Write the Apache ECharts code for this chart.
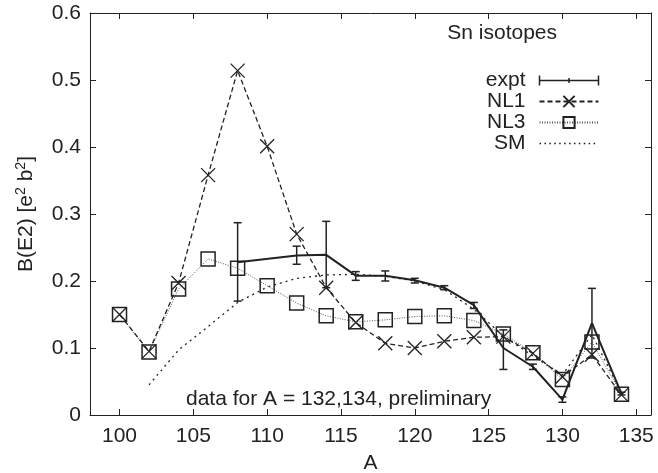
<!DOCTYPE html>
<html>
<head>
<meta charset="utf-8">
<script src="https://cdn.jsdelivr.net/npm/echarts@6/dist/echarts.min.js"></script>
<style>
  html, body { margin: 0; padding: 0; background: #fff; }
  #chart { width: 658px; height: 473px; }
</style>
</head>
<body>
<div id="chart"></div>
<script>
// mass numbers
const massAll = [100, 102, 104, 106, 108, 110, 112, 114, 116, 118, 120, 122, 124, 126, 128, 130, 132, 134]
const massSM = [102, 104, 106, 108, 110, 112, 114, 116, 118, 120, 122, 124, 126, 128, 130, 132, 134]
const massExpt = [108, 112, 114, 116, 118, 120, 122, 124, 126, 128, 130, 132, 134]

// B(E2) values [e^2 b^2]
const exptVal = [0.228, 0.238, 0.239, 0.208, 0.208, 0.201, 0.190, 0.164, 0.100, 0.072, 0.023, 0.137, 0.032]
const exptLow = [0.170, 0.225, 0.190, 0.201, 0.200, 0.197, 0.187, 0.159, 0.068, 0.068, 0.019, 0.085, 0.030]
const exptHigh = [0.287, 0.252, 0.289, 0.214, 0.215, 0.204, 0.193, 0.168, 0.127, 0.076, 0.027, 0.189, 0.034]
const nl1Val = [0.150, 0.095, 0.197, 0.358, 0.514, 0.401, 0.270, 0.190, 0.138, 0.107, 0.100, 0.110, 0.116, 0.117, 0.092, 0.057, 0.090, 0.030]
const nl3Val = [0.150, 0.094, 0.188, 0.233, 0.219, 0.193, 0.167, 0.148, 0.139, 0.142, 0.147, 0.148, 0.141, 0.121, 0.093, 0.053, 0.109, 0.031]
const smVal = [0.045, 0.097, 0.132, 0.168, 0.191, 0.204, 0.209, 0.210, 0.207, 0.200, 0.187, 0.158, 0.118, 0.088, 0.060, 0.120, 0.033]

const xTicks = [100, 105, 110, 115, 120, 125, 130, 135]

const ink = '#222'
const font = 'Liberation Sans, Arial, sans-serif'

const pairs = (xs, ys) => xs.map((x, i) => [x, ys[i]])

// dotted legend sample for SM (no marker)
let smIcon = 'path://'
for (let i = 0; i < 60; i += 5) smIcon += 'M' + i + ',5L' + (i + 1.6) + ',5'
smIcon += 'M0,0M60,10'

let myChart = echarts.init(document.getElementById('chart'), null, { renderer: 'canvas' })

let option = {
  backgroundColor: '#fff',
  animation: false,
  textStyle: { fontFamily: font, color: ink },
  grid: { left: 90, right: 7, top: 13, bottom: 58, outerBoundsMode: 'none', containLabel: false },
  title: {
    text: 'Sn isotopes',
    right: 96,
    top: 18,
    textStyle: { fontFamily: font, fontSize: 21, fontWeight: 'normal', color: ink }
  },
  legend: {
    orient: 'vertical',
    right: 52,
    top: 65,
    align: 'right',
    itemWidth: 59,
    itemHeight: 14,
    itemGap: 0,
    textStyle: { fontFamily: font, fontSize: 21, color: ink, padding: [0, 9, 0, 0] },
    data: [
      {
        name: 'expt',
        icon: 'path://M0,0L0,10M0,5L60,5M60,0L60,10M30,2.5L30,7.5',
        itemStyle: { color: 'none', borderColor: ink, borderWidth: 1.5 }
      },
      { name: 'NL1' },
      { name: 'NL3' },
      {
        name: 'SM',
        icon: smIcon,
        itemStyle: { color: 'none', borderColor: ink, borderWidth: 1.3 }
      }
    ]
  },
  xAxis: [
    {
      type: 'value',
      min: 98,
      max: 136,
      name: 'A',
      nameLocation: 'middle',
      nameGap: 38,
      nameTextStyle: { fontFamily: font, fontSize: 21, color: ink },
      axisLine: { show: true, onZero: false, lineStyle: { color: ink, width: 1 } },
      axisTick: { show: true, inside: true, length: 6, customValues: xTicks, lineStyle: { color: ink } },
      axisLabel: { customValues: xTicks, margin: 11, fontSize: 21, fontFamily: font, color: ink },
      splitLine: { show: false }
    },
    {
      type: 'value',
      position: 'top',
      min: 98,
      max: 136,
      axisLine: { show: true, onZero: false, lineStyle: { color: ink, width: 1 } },
      axisTick: { show: true, inside: true, length: 6, customValues: xTicks, lineStyle: { color: ink } },
      axisLabel: { show: false },
      splitLine: { show: false }
    }
  ],
  yAxis: [
    {
      type: 'value',
      min: 0,
      max: 0.6,
      interval: 0.1,
      name: 'B(E2) [e{sup|2} b{sup|2}]',
      nameLocation: 'middle',
      nameGap: 52,
      nameTextStyle: {
        fontFamily: font, fontSize: 21, color: ink,
        rich: { sup: { fontFamily: font, fontSize: 14, color: ink, verticalAlign: 'top', padding: [0, 0, 10, 0] } }
      },
      axisLine: { show: true, onZero: false, lineStyle: { color: ink, width: 1 } },
      axisTick: { show: true, inside: true, length: 6, lineStyle: { color: ink } },
      axisLabel: {
        margin: 9, fontSize: 21, fontFamily: font, color: ink,
        formatter: function (v) { return v === 0 ? '0' : v.toFixed(1) }
      },
      splitLine: { show: false }
    },
    {
      type: 'value',
      position: 'right',
      min: 0,
      max: 0.6,
      interval: 0.1,
      axisLine: { show: true, onZero: false, lineStyle: { color: ink, width: 1 } },
      axisTick: { show: true, inside: true, length: 6, lineStyle: { color: ink } },
      axisLabel: { show: false },
      splitLine: { show: false }
    }
  ],
  graphic: [
    {
      type: 'text',
      left: 186,
      top: 389,
      style: { text: 'data for A = 132,134, preliminary', fontFamily: font, fontSize: 21, fill: ink }
    }
  ],
  series: [
    {
      name: 'SM',
      type: 'line',
      data: pairs(massSM, smVal),
      symbol: 'none',
      lineStyle: { color: ink, width: 1.3, type: [2, 4] },
      itemStyle: { color: ink },
      z: 2
    },
    {
      name: 'NL3',
      type: 'line',
      data: pairs(massAll, nl3Val),
      symbol: 'rect',
      symbolSize: 14,
      lineStyle: { color: '#555', width: 1, type: [1, 1.5] },
      itemStyle: { color: 'none', borderColor: ink, borderWidth: 1.5 },
      z: 3
    },
    {
      name: 'NL1',
      type: 'line',
      data: pairs(massAll, nl1Val),
      symbol: 'path://M0,0L10,10M10,0L0,10',
      symbolSize: 14,
      lineStyle: { color: ink, width: 1.3, type: [5, 3] },
      itemStyle: { color: 'none', borderColor: ink, borderWidth: 1.3 },
      z: 4
    },
    {
      name: 'expt',
      type: 'line',
      data: pairs(massExpt, exptVal),
      symbol: 'none',
      lineStyle: { color: ink, width: 2 },
      itemStyle: { color: ink },
      z: 5
    },
    {
      name: 'expt-err',
      type: 'custom',
      data: massExpt.map((x, i) => [x, exptLow[i], exptHigh[i]]),
      encode: { x: 0, y: [1, 2] },
      z: 6,
      renderItem: function (params, api) {
        let x = api.value(0)
        let bot = api.coord([x, api.value(1)])
        let top = api.coord([x, api.value(2)])
        let w = 4
        let st = { stroke: ink, lineWidth: 1.5 }
        return {
          type: 'group',
          children: [
            { type: 'line', shape: { x1: top[0], y1: top[1], x2: bot[0], y2: bot[1] }, style: st },
            { type: 'line', shape: { x1: top[0] - w, y1: top[1], x2: top[0] + w, y2: top[1] }, style: st },
            { type: 'line', shape: { x1: bot[0] - w, y1: bot[1], x2: bot[0] + w, y2: bot[1] }, style: st }
          ]
        }
      }
    }
  ]
}
myChart.setOption(option)
</script>
</body>
</html>
